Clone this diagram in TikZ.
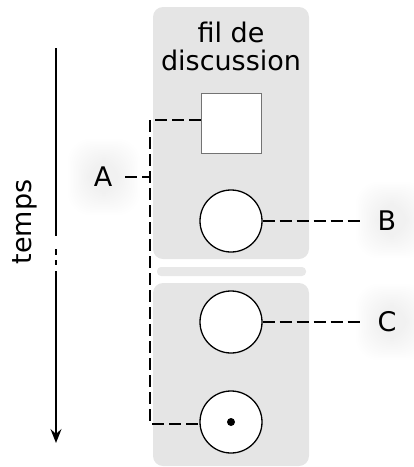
\documentclass[tikz,border=0pt]{standalone}
\usepackage{fontspec}
\setmainfont{DejaVu Sans}
\usetikzlibrary{arrows.meta}
\begin{document}
\begin{tikzpicture}[x=1pt,y=-1pt,
  panel/.style={fill=black!10, rounded corners=10pt},
  sepbar/.style={fill=black!9, rounded corners=4pt},
  conn/.style={line width=2.8pt, dash pattern=on 12pt off 5pt},
  post/.style={circle, draw=black, line width=1.3pt, fill=white, minimum size=62pt, inner sep=0pt},
  label/.style={font=\fontsize{27}{28}\selectfont, inner ysep=0pt},
  glowlayer/.style={fill=black, opacity=0.005}
]
\useasboundingbox (0,0) rectangle (414,467);
% glows
\foreach \cx/\cy in {104/177, 392/220, 392/322}{
  \foreach \i in {0,...,13}{
    \fill[glowlayer, rounded corners=22pt] (\cx-36+\i*1.6, \cy-38+\i*1.6) rectangle (\cx+36-\i*1.6, \cy+38-\i*1.6);
  }
}
% panels
\fill[panel] (153,7) rectangle (309,259);
\fill[sepbar] (157,267) rectangle (306,276);
\fill[panel] (153,283) rectangle (309,466);
% title
\node[label, align=center] (title) at (231,46) {fil de\\discussion};
% posts
\node[draw=black!55, line width=1.3pt, fill=white, minimum size=60pt, inner sep=0pt] (sq) at (231.5,123.5) {};
\node[post] (b) at (231,221) {};
\node[post] (c) at (231,322) {};
\node[post] (d) at (231,422) {};
\fill (d.center) circle (4pt);
% labels
\node[label, inner xsep=12.8pt] (A) at (103,177) {A};
\node[label, inner xsep=15pt] (B) at (387,221) {B};
\node[label, inner xsep=15pt] (C) at (387,322) {C};
% connectors
\coordinate (ctop) at (150,120);
\coordinate (cbot) at (150,424);
\draw[conn] (sq.west |- ctop) -- (ctop) -- (cbot) -- (d.west |- cbot);
\draw[conn] (A.east) -- (A.east -| ctop);
\draw[conn] (b.east) -- (B.west);
\draw[conn] (c.east) -- (C.west);
% time arrow
\coordinate (t0) at (56,48);
\coordinate (t1) at (56,236);
\coordinate (t2) at (56,271);
\coordinate (t3) at (56,443);
\draw[line width=1.8pt] (t0) -- (t1);
\draw[line width=1.8pt, dash pattern=on 0pt off 13pt on 6pt off 5pt on 5pt off 6pt] (t1) -- (t2);
\draw[line width=1.8pt, -{Stealth[length=14pt,width=11pt,inset=5pt]}] (t2) -- (t3);
\node[label, rotate=90] (temps) at (25,222) {temps};
\end{tikzpicture}
\end{document}
